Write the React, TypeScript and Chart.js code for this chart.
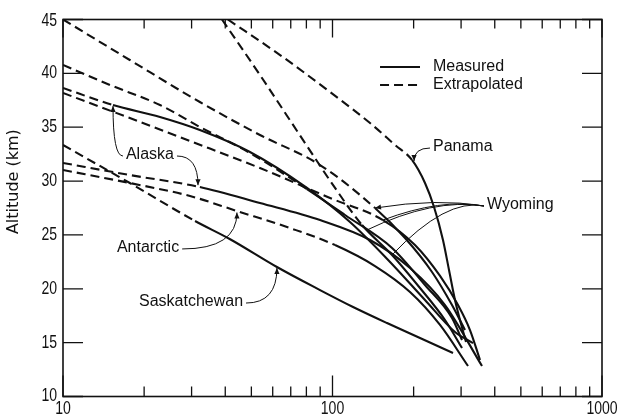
import React, { useEffect, useRef } from "react";
import { Chart, registerables } from "chart.js";

Chart.register(...registerables);

// ---------------- data (x on log axis, altitude in km) ----------------
const saskatchewanX = [10, 17.7, 30.9, 41.7, 62.2, 89.9, 119.2, 159.3, 211.2, 280.0];
const saskatchewanAlt = [33.35, 29.82, 26.29, 24.6, 22.02, 19.88, 18.31, 16.82, 15.43, 14.04];
const saskatchewanMeasuredFrom = 2;

const antarcticX = [10, 17.7, 29.6, 44.2, 69.5, 102.2, 143.8, 193.9, 250.6, 318.3];
const antarcticAlt = [31.03, 29.82, 28.61, 27.22, 25.64, 24.06, 22.11, 19.7, 16.64, 12.83];
const antarcticMeasuredFrom = 5;

const alaskaAX = [10, 15.33, 22.9, 32.2, 49.4, 80.4, 116.1, 163.5, 220.4, 284.8, 332.2];
const alaskaAAlt = [38.64, 37.06, 35.95, 34.74, 32.7, 29.36, 26.2, 22.49, 18.96, 15.99, 14.96];
const alaskaAMeasuredFrom = 1;

const alaskaBX = [10, 17.7, 32.2, 53.8, 89.9, 137.8, 193.9, 261.5, 358.7];
const alaskaBAlt = [31.68, 30.56, 29.45, 27.96, 26.38, 24.53, 21.93, 18.49, 12.83];
const alaskaBMeasuredFrom = 2;

const wyomingAX = [10, 17.7, 32.2, 53.8, 89.9, 143.8, 185.8, 234.0, 277.6, 310.2];
const wyomingAAlt = [45.0, 41.24, 37.34, 34.28, 31.49, 27.5, 24.71, 21.56, 18.49, 16.17];
const wyomingAMeasuredFrom = 5;

const wyomingBX = [10, 14.94, 22.9, 32.2, 49.4, 80.4, 111.3, 166.3, 220.4, 277.6, 302.4];
const wyomingBAlt = [40.78, 38.92, 37.06, 35.02, 32.61, 29.26, 26.85, 23.79, 20.35, 17.29, 15.24];
const wyomingBMeasuredFrom = 5;

const wyomingCX = [10, 17.7, 29.6, 53.8, 97.9, 153.9, 202.3, 250.6, 292.2, 323.7, 352.6];
const wyomingCAlt = [38.18, 35.85, 33.72, 31.21, 28.43, 26.38, 24.06, 21.19, 18.49, 16.17, 13.39];
const wyomingCMeasuredFrom = 5;

const wyomingDX = [38.9, 53.8, 79.1, 102.2, 128.7, 166.3, 211.2, 261.5, 302.4];
const wyomingDAlt = [45.0, 39.85, 33.53, 29.36, 25.92, 23.14, 20.07, 17.1, 14.5];
const wyomingDMeasuredFrom = 4;

const panamaX = [40.9, 63.9, 97.9, 137.8, 170.6, 197.2, 220.4, 238.1, 257.0, 270.6, 284.8, 297.2, 312.9];
const panamaAlt = [45.0, 41.7, 38.27, 35.39, 33.35, 31.96, 29.82, 27.59, 24.53, 21.74, 18.96, 17.1, 15.06];
const panamaMeasuredFrom = 5;

// ---------------- axis ticks ----------------
const yTickValues = [10, 15, 20, 25, 30, 35, 40, 45];
const xLabelValues = [10, 100, 1000];
const xMinorValues = [20, 30, 40, 50, 60, 70, 80, 90, 200, 300, 400, 500, 600, 700, 800, 900];

type Curve = { name: string; x: number[]; alt: number[]; measuredFrom: number };

const curves: Curve[] = [
  { name: "Saskatchewan", x: saskatchewanX, alt: saskatchewanAlt, measuredFrom: saskatchewanMeasuredFrom },
  { name: "Antarctic", x: antarcticX, alt: antarcticAlt, measuredFrom: antarcticMeasuredFrom },
  { name: "Alaska A", x: alaskaAX, alt: alaskaAAlt, measuredFrom: alaskaAMeasuredFrom },
  { name: "Alaska B", x: alaskaBX, alt: alaskaBAlt, measuredFrom: alaskaBMeasuredFrom },
  { name: "Wyoming A", x: wyomingAX, alt: wyomingAAlt, measuredFrom: wyomingAMeasuredFrom },
  { name: "Wyoming B", x: wyomingBX, alt: wyomingBAlt, measuredFrom: wyomingBMeasuredFrom },
  { name: "Wyoming C", x: wyomingCX, alt: wyomingCAlt, measuredFrom: wyomingCMeasuredFrom },
  { name: "Wyoming D", x: wyomingDX, alt: wyomingDAlt, measuredFrom: wyomingDMeasuredFrom },
  { name: "Panama", x: panamaX, alt: panamaAlt, measuredFrom: panamaMeasuredFrom },
];

// labels anchored in data coordinates, with leader tips on curves
type Leader = { side: "left" | "right"; tip: [number, number]; arrow: boolean; fan?: boolean };
type Label = { text: string; at: [number, number]; align: "left" | "center"; leaders: Leader[] };

const curveLabels: Label[] = [
  { text: "Panama", at: [236, 33.16], align: "left", leaders: [{ side: "left", tip: [200.7, 31.86], arrow: true }] },
  {
    text: "Wyoming",
    at: [374.4, 27.78],
    align: "left",
    leaders: [
      { side: "left", tip: [143.8, 27.5], arrow: true, fan: true },
      { side: "left", tip: [153.9, 26.38], arrow: false, fan: true },
      { side: "left", tip: [134.3, 25.46], arrow: false, fan: true },
      { side: "left", tip: [166.3, 23.14], arrow: false, fan: true },
    ],
  },
  {
    text: "Alaska",
    at: [21.02, 32.42],
    align: "center",
    leaders: [
      { side: "left", tip: [15.33, 36.97], arrow: true },
      { side: "right", tip: [31.69, 29.62], arrow: true },
    ],
  },
  { text: "Antarctic", at: [20.68, 23.79], align: "center", leaders: [{ side: "right", tip: [44.2, 27.08], arrow: true }] },
  { text: "Saskatchewan", at: [29.85, 18.77], align: "center", leaders: [{ side: "right", tip: [62.2, 21.93], arrow: true }] },
];

const legendLineX = [150.1, 211.2];
const legendTextX = 236;
const legendAlt = [40.59, 38.92];
const legendNames = ["Measured", "Extrapolated"];

const INK = "#111";
const DASH = [9, 5];
const LABEL_FONT = '16px "Liberation Sans", Arial, sans-serif';
const TICK_FONT = '18px "Liberation Sans", Arial, sans-serif';

function arrowHead(ctx: CanvasRenderingContext2D, cx: number, cy: number, tx: number, ty: number) {
  const ang = Math.atan2(ty - cy, tx - cx);
  const L = 6;
  const W = 2.6;
  const c = Math.cos(ang);
  const s = Math.sin(ang);
  ctx.beginPath();
  ctx.moveTo(tx, ty);
  ctx.lineTo(tx - L * c + W * s, ty - L * s - W * c);
  ctx.lineTo(tx - L * c - W * s, ty - L * s + W * c);
  ctx.closePath();
  ctx.fill();
}

function narrowText(ctx: CanvasRenderingContext2D, text: string, x: number, y: number, align: CanvasTextAlign) {
  ctx.save();
  ctx.translate(x, y);
  ctx.scale(0.78, 1);
  ctx.textAlign = align;
  ctx.textBaseline = "middle";
  ctx.fillText(text, 0, 0);
  ctx.restore();
}

const decorPlugin = {
  id: "decor",
  afterDatasetsDraw(chart: any) {
    const { ctx, chartArea: a, scales } = chart;
    const xs = scales.x;
    const ys = scales.y;
    const px = (v: number) => xs.getPixelForValue(v);
    const py = (v: number) => ys.getPixelForValue(v);
    ctx.save();
    ctx.strokeStyle = INK;
    ctx.fillStyle = INK;
    ctx.setLineDash([]);

    // frame
    ctx.lineWidth = 1.6;
    ctx.strokeRect(a.left, a.top, a.right - a.left, a.bottom - a.top);

    // inward ticks
    ctx.lineWidth = 1.3;
    ctx.beginPath();
    for (const v of yTickValues) {
      const y = py(v);
      ctx.moveTo(a.left, y);
      ctx.lineTo(a.left + 20, y);
      ctx.moveTo(a.right, y);
      ctx.lineTo(a.right - 20, y);
    }
    for (const v of xMinorValues) {
      const x = px(v);
      ctx.moveTo(x, a.bottom);
      ctx.lineTo(x, a.bottom - 10);
      ctx.moveTo(x, a.top);
      ctx.lineTo(x, a.top + 9);
    }
    for (const v of xLabelValues) {
      const x = px(v);
      ctx.moveTo(x, a.bottom);
      ctx.lineTo(x, a.bottom - 21);
      ctx.moveTo(x, a.top);
      ctx.lineTo(x, a.top + 18);
    }
    ctx.stroke();

    // tick labels (narrow digits)
    ctx.font = TICK_FONT;
    for (const v of yTickValues) narrowText(ctx, String(v), a.left - 6, py(v) + (v === 45 ? 2 : 0), "right");
    for (const v of xLabelValues) narrowText(ctx, String(v), px(v), a.bottom + 13, "center");

    // axis title
    ctx.save();
    ctx.font = '16px "DejaVu Sans", sans-serif';
    ctx.translate(14, a.top + (a.bottom - a.top) * 0.43);
    ctx.rotate(-Math.PI / 2);
    ctx.textAlign = "center";
    ctx.textBaseline = "middle";
    ctx.fillText("Altitude (km)", 0, 0);
    ctx.restore();

    // legend
    ctx.font = LABEL_FONT;
    ctx.textAlign = "left";
    ctx.textBaseline = "middle";
    ctx.lineWidth = 2.1;
    legendNames.forEach((name, i) => {
      const y = py(legendAlt[i]);
      ctx.setLineDash(i === 0 ? [] : DASH);
      ctx.beginPath();
      ctx.moveTo(px(legendLineX[0]), y);
      ctx.lineTo(px(legendLineX[1]), y);
      ctx.stroke();
      ctx.setLineDash([]);
      ctx.fillText(name, px(legendTextX), y);
    });

    // curve labels and leaders
    ctx.font = LABEL_FONT;
    ctx.textBaseline = "middle";
    for (const lab of curveLabels) {
      const ax = px(lab.at[0]);
      const ay = py(lab.at[1]);
      const w = ctx.measureText(lab.text).width;
      const left = lab.align === "left" ? ax : ax - w / 2;
      ctx.textAlign = "left";
      ctx.fillText(lab.text, left, ay);
      ctx.lineWidth = 1;
      for (const ld of lab.leaders) {
        const sx = ld.side === "left" ? left - 3 : left + w + 3;
        const sy = ay + 1;
        const tx = px(ld.tip[0]);
        const ty = py(ld.tip[1]);
        let cx = tx;
        let cy = sy;
        if (ld.fan) {
          cx = (sx + tx) / 2 + 8;
          cy = Math.min(sy, ty) - 8;
        }
        ctx.beginPath();
        ctx.moveTo(sx, sy);
        ctx.quadraticCurveTo(cx, cy, tx, ty);
        ctx.stroke();
        if (ld.arrow) arrowHead(ctx, cx, cy, tx, ty);
      }
    }
    ctx.restore();
  },
};

export default function App() {
  const ref = useRef<HTMLCanvasElement | null>(null);

  useEffect(() => {
    if (!ref.current) return;
    const chart = new Chart(ref.current, {
      type: "line",
      data: {
        datasets: curves.map((c) => ({
          label: c.name,
          data: c.x.map((x, i) => ({ x, y: c.alt[i] })),
          borderColor: INK,
          borderWidth: 2.1,
          pointRadius: 0,
          cubicInterpolationMode: "monotone",
          fill: false,
          segment: {
            borderDash: (ctx: any) => (ctx.p0DataIndex < c.measuredFrom ? DASH : []),
          },
        })),
      },
      options: {
        animation: false,
        responsive: false,
        devicePixelRatio: 1,
        events: [],
        layout: { padding: { left: 0, right: 16, top: 19.5, bottom: 0 } },
        plugins: { legend: { display: false }, tooltip: { enabled: false } },
        scales: {
          x: {
            type: "logarithmic",
            min: 10,
            max: 1000,
            grid: { display: false, drawTicks: false },
            border: { display: false },
            ticks: { display: false },
            afterFit: (s: any) => {
              s.height = 22.5;
            },
          },
          y: {
            type: "linear",
            min: 10,
            max: 45,
            grid: { display: false, drawTicks: false },
            border: { display: false },
            ticks: { display: false, stepSize: 5 },
            afterFit: (s: any) => {
              s.width = 63;
            },
          },
        },
      } as any,
      plugins: [decorPlugin],
    });
    return () => chart.destroy();
  }, []);

  return (
    <div style={{ position: "fixed", left: 0, top: 0, width: 618, height: 419, background: "#fff" }}>
      <canvas ref={ref} width={618} height={419} style={{ display: "block" }} />
    </div>
  );
}
